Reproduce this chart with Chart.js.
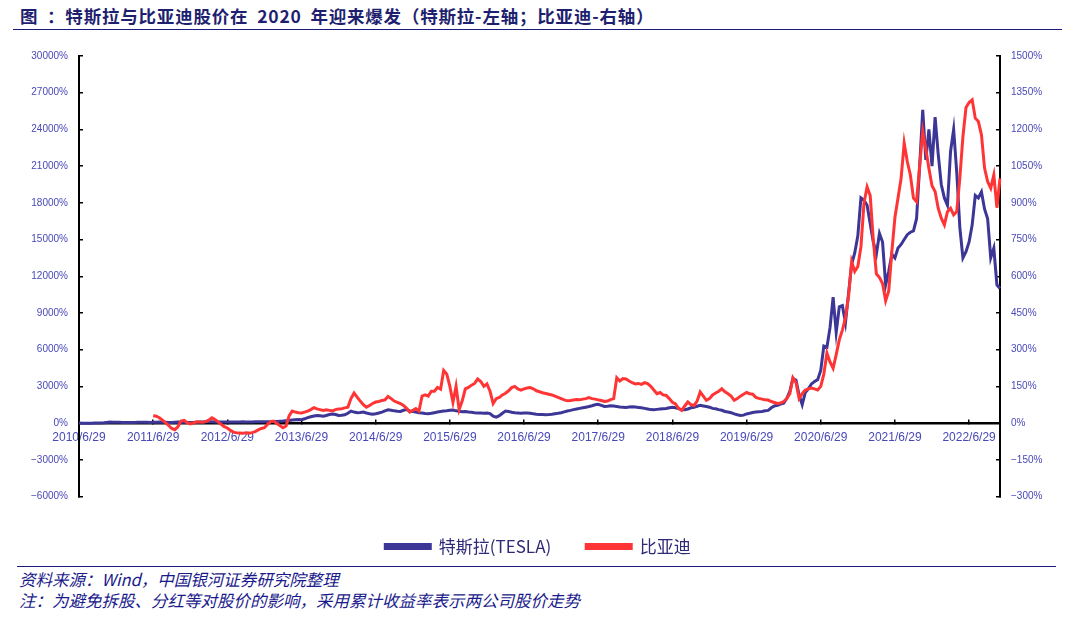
<!DOCTYPE html>
<html>
<head>
<meta charset="utf-8">
<script src="https://cdn.jsdelivr.net/npm/chart.js@4.4.0/dist/chart.umd.min.js"></script>
<style>
  body { margin: 0; width: 1076px; height: 629px; background: #fff; position: relative; overflow: hidden;
         font-family: "Noto Sans CJK SC", sans-serif; }
  #title { position: absolute; left: 20px; top: 6px; line-height: 20px; font-size: 17.5px; font-weight: bold;
           letter-spacing: 0.8px; word-spacing: 4px; color: #1f1f70; white-space: nowrap; }
  .rule { position: absolute; height: 0; border-top: 1.5px solid #1a1a7a; }
  #wrap { position: absolute; left: 0; top: 35px; width: 1076px; height: 530px; }
  .note { position: absolute; left: 19px; line-height: 20px; font-size: 16.5px; font-style: italic;
          color: #1a1a8c; white-space: nowrap; z-index: 2; }
</style>
</head>
<body>
<div id="title">图 ：特斯拉与比亚迪股价在 2020 年迎来爆发（特斯拉-左轴；比亚迪-右轴）</div>
<div class="rule" style="left:13px; width:1049px; top:29px;"></div>
<div id="wrap"><canvas id="myChart"></canvas></div>
<div class="rule" style="left:17px; width:1039px; top:566px; z-index:2;"></div>
<div class="note" style="top:569px;">资料来源：Wind，中国银河证券研究院整理</div>
<div class="note" style="top:590px;">注：为避免拆股、分红等对股价的影响，采用累计收益率表示两公司股价走势</div>

<script>
// half-month dates, 2010/6/29 .. 2022/11/29
const dates = ['2010/6/29'];
for (let y = 2010, m = 7; !(y === 2022 && m === 12); ) {
    dates.push(y + '/' + m + '/14', y + '/' + m + '/29');
    m++;
    if (m > 12) { m = 1; y++; }
}

// 特斯拉 cumulative return, % (left axis), one row per year from late June
const tesla = [
    0, -10, -20, -15, -5, 0, 5, 10, 20, 50, 80, 60, 70, 60, 50, 40, 40, 45, 50, 60, 65, 70, 60, 55,
    70, 75, 80, 75, 60, 50, 45, 60, 80, 75, 60, 55, 45, 55, 65, 80, 90, 100, 110, 100, 95, 90, 85, 80,
    90, 85, 80, 85, 95, 100, 95, 90, 90, 100, 105, 110, 110, 100, 110, 120, 130, 150, 170, 200, 220, 250, 280, 300,
    280, 350, 450, 520, 580, 620, 600, 560, 620, 700, 750, 700, 620, 640, 680, 800, 980, 900, 850, 860, 900, 820, 760, 720,
    760, 820, 900, 1000, 1080, 1050, 1000, 960, 950, 1050, 1100, 1000, 950, 900, 850, 820, 780, 770, 800, 850, 900, 950, 980, 1000,
    1040, 1060, 1000, 960, 930, 950, 910, 880, 850, 830, 820, 810, 820, 780, 560, 490, 600, 800, 980, 940, 880, 840, 820, 800,
    820, 830, 800, 760, 730, 710, 700, 690, 700, 720, 760, 800, 850, 920, 990, 1040, 1100, 1150, 1200, 1250, 1300, 1350, 1420, 1500,
    1530, 1450, 1360, 1380, 1420, 1400, 1360, 1320, 1300, 1280, 1320, 1330, 1310, 1280, 1250, 1200, 1150, 1100, 1090, 1120, 1150, 1180, 1200, 1250,
    1300, 1250, 1180, 1100, 1090, 1150, 1250, 1300, 1380, 1450, 1400, 1350, 1300, 1200, 1170, 1100, 1050, 950, 900, 850, 750, 680, 630, 650,
    750, 800, 870, 900, 930, 950, 1000, 1040, 1250, 1400, 1450, 1550, 1620, 2000, 2600, 3650, 3500, 2300, 1500, 2500, 2800, 3200, 3400, 3550,
    4300, 6300, 6200, 7800, 10300, 7400, 9500, 9600, 8200, 10600, 13000, 13900, 15300, 18400, 18200, 17800, 16300, 14800, 13800, 15500, 14800, 11300, 12400, 13800,
    13500, 14300, 14600, 15000, 15400, 15600, 15700, 16700, 21000, 25600, 21500, 24000, 21000, 25000, 22000, 19500, 18400, 17800, 22200, 24000, 20500, 16000, 13500, 14000,
    14800, 16200, 18600, 18400, 18900, 17500, 16700, 13500, 14300, 11300, 11000
];

// 比亚迪 cumulative return, % (right axis); listed 2011/6/30
const byd = [
    null, null, null, null, null, null, null, null, null, null, null, null,
    null, null, null, null, null, null, null, null, null, null, null, null,
    30, 28, 22, 12, 2, -10, -22, -27, -15, 8, 11, 2, -3, 0, 5, 4, 3, 6, 12, 22, 15, 5, -5, -15,
    -20, -30, -37, -40, -41, -42, -40, -41, -39, -35, -28, -22, -19, -5, 6, 8, -2, -10, -19, -12, 30, 49, 45, 42,
    41, 45, 49, 55, 63, 58, 55, 52, 54, 52, 50, 55, 58, 59, 62, 65, 100, 123, 106, 90, 75, 65, 72, 80,
    86, 88, 92, 95, 109, 100, 90, 85, 80, 72, 60, 45, 52, 59, 49, 110, 115, 110, 130, 130, 146, 139, 215, 200,
    150, 85, 150, 55, 91, 140, 146, 155, 162, 180, 170, 150, 160, 130, 80, 100, 105, 115, 122, 132, 145, 150, 140, 135,
    140, 143, 145, 140, 132, 128, 124, 121, 118, 115, 110, 105, 100, 95, 91, 92, 94, 96, 95, 98, 100, 104, 100, 98,
    95, 92, 88, 90, 96, 100, 185, 172, 182, 180, 172, 165, 160, 162, 158, 165, 161, 150, 135, 120, 125, 115, 113, 100,
    85, 78, 60, 52, 70, 86, 75, 72, 90, 127, 110, 93, 100, 115, 123, 130, 140, 128, 120, 110, 93, 100, 110, 118,
    125, 120, 118, 105, 101, 98, 95, 94, 88, 84, 80, 82, 88, 100, 120, 185, 165, 100, 120, 135, 140, 143, 140, 135,
    150, 200, 286, 250, 224, 280, 340, 380, 430, 520, 660, 620, 640, 720, 900, 965, 930, 750, 610, 595, 570, 500, 540, 700,
    840, 920, 1000, 1144, 1069, 1014, 919, 905, 1050, 1191, 1120, 1040, 970, 946, 878, 837, 810, 864, 878, 851, 864, 1000, 1170, 1290,
    1310, 1321, 1246, 1232, 1178, 1042, 987, 960, 1014, 880, 1000
];

const leftTicks = { min: -6000, max: 30000, step: 3000 };
const rightTicks = { min: -300, max: 1500, step: 150 };

const tickColor = '#4848b8';
const pct = v => (v < 0 ? '\u2212' : '') + Math.abs(v) + '%';

const data = {
    labels: dates,
    datasets: [{
        label: '特斯拉(TESLA)',
        data: tesla,
        yAxisID: 'yL',
        borderColor: '#3c3696',
        backgroundColor: '#3c3696',
        borderWidth: 3,
        pointRadius: 0,
        order: 2
    }, {
        label: '比亚迪',
        data: byd,
        yAxisID: 'yR',
        borderColor: '#ff3535',
        backgroundColor: '#ff3535',
        borderWidth: 3,
        pointRadius: 0,
        order: 1
    }]
};

const config = {
    type: 'line',
    data: data,
    options: {
        responsive: true,
        maintainAspectRatio: false,
        animation: false,
        layout: { padding: { top: 10, left: 0, right: 0, bottom: 0 } },
        plugins: {
            legend: {
                position: 'bottom',
                // empty title only used as a spacer above the legend row
                title: { display: true, text: '', font: { size: 1 }, padding: { top: 0, bottom: 5.3 } },
                labels: {
                    boxWidth: 45,
                    boxHeight: 4,
                    padding: 35,
                    color: '#2e2a78',
                    font: { family: '"Noto Sans CJK SC", sans-serif', size: 17 },
                    sort: (a, b) => a.datasetIndex - b.datasetIndex
                }
            },
            tooltip: { enabled: false }
        },
        scales: {
            x: {
                type: 'category',
                position: { yL: 0 },
                grid: { drawOnChartArea: false, drawTicks: true, tickLength: -5, color: '#000', lineWidth: 1.5 },
                border: { display: true, color: '#000', width: 2.5 },
                ticks: {
                    autoSkip: false,
                    maxRotation: 0,
                    minRotation: 0,
                    padding: 12,
                    color: tickColor,
                    font: { family: '"Liberation Sans", Arial, sans-serif', size: 12 },
                    callback: function (value) {
                        const l = this.getLabelForValue(value);
                        return /\/6\/29$/.test(l) ? l : null;
                    }
                }
            },
            yL: {
                position: 'left',
                min: leftTicks.min,
                max: leftTicks.max,
                afterFit: s => { s.width = 79; },
                grid: { drawOnChartArea: false, tickLength: -4, color: '#000', lineWidth: 1.5 },
                border: { display: true, color: '#000', width: 2 },
                ticks: {
                    stepSize: leftTicks.step,
                    padding: 15,
                    color: tickColor,
                    font: { family: '"Liberation Sans", Arial, sans-serif', size: 10 },
                    callback: pct
                }
            },
            yR: {
                position: 'right',
                min: rightTicks.min,
                max: rightTicks.max,
                afterFit: s => { s.width = 76; },
                grid: { drawOnChartArea: false, tickLength: -4, color: '#000', lineWidth: 1.5 },
                border: { display: true, color: '#000', width: 2 },
                ticks: {
                    stepSize: rightTicks.step,
                    padding: 15,
                    color: tickColor,
                    font: { family: '"Liberation Sans", Arial, sans-serif', size: 10 },
                    callback: pct
                }
            }
        }
    }
};

const myChart = new Chart(document.getElementById('myChart'), config);
</script>
</body>
</html>
